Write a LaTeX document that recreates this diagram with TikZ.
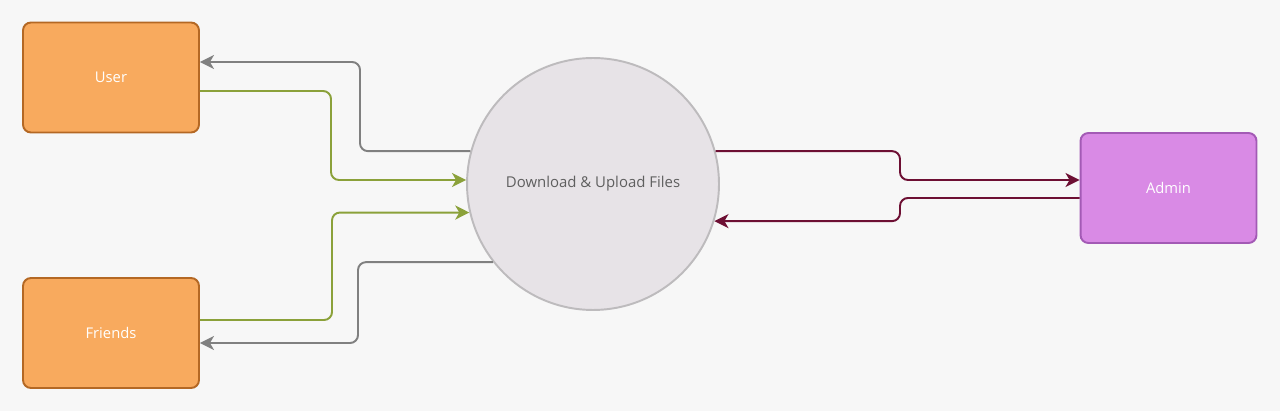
\documentclass[tikz,border=0pt]{standalone}
\usepackage{fontspec}
\setmainfont{Open Sans}
\usetikzlibrary{arrows.meta, positioning, calc}
\definecolor{bgpage}{RGB}{247, 247, 247}
\definecolor{entfill}{RGB}{248, 170, 94}
\definecolor{entline}{RGB}{180, 104, 36}
\definecolor{admfill}{RGB}{217, 138, 229}
\definecolor{admline}{RGB}{163, 90, 181}
\definecolor{procfill}{RGB}{231, 227, 231}
\definecolor{procline}{RGB}{189, 187, 189}
\definecolor{flowgray}{RGB}{128, 128, 128}
\definecolor{flowgreen}{RGB}{139, 161, 58}
\definecolor{flowred}{RGB}{109, 15, 51}
\definecolor{proctext}{RGB}{95, 95, 95}

\begin{document}
\begin{tikzpicture}[
  x=0.02cm, y=-0.02cm,
  entity/.style={draw=entline, fill=entfill, line width=1.1pt, rounded corners=4.5pt, minimum width=3.52cm, minimum height=2.2cm, font=\fontsize{8.4}{10}\selectfont, text=white},
  process/.style={circle, draw=procline, fill=procfill, line width=1.1pt, minimum size=5.04cm, font=\fontsize{8.5}{10}\selectfont, text=proctext},
  flow/.style={-{Stealth[length=8pt, width=8pt, inset=2.3pt]}, line width=1.1pt, rounded corners=4.5pt}
]
  \fill[bgpage] (0,0) rectangle (1280,411);

  \node[entity] (user) at (111, 77.5) {User};
  \node[entity] (friends) at (111, 333) {Friends};
  \node[entity, draw=admline, fill=admfill] (admin) at (1168.5, 188) {Admin};
  \node[process] (proc) at (593, 184) {Download \& Upload Files};

  % user and friends side
  \draw[flow, flowgray] (proc.165) -- (proc.165 -| 360,0) |- (user.east |- 0,62);
  \draw[flow, flowgreen] (user.east |- 0,91) -- (331, 91) |- (proc.west |- 0,180);
  \draw[flow, flowgreen] (friends.east |- 0,320) -- (332, 320) |- (proc.193);
  \draw[flow, flowgray] (proc.218) -- (proc.218 -| 358,0) |- (friends.east |- 0,343);

  % admin side
  \draw[flow, flowred] (proc.15) -- (proc.15 -| 900,0) |- (admin.west |- 0,180);
  \draw[flow, flowred] (admin.west |- 0,198) -- (900, 198) |- (proc.343);
\end{tikzpicture}
\end{document}
